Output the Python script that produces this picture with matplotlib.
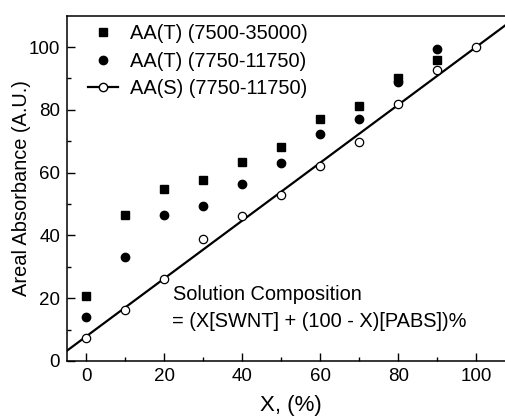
import numpy as np
import matplotlib
matplotlib.use("Agg")
import matplotlib.pyplot as plt
from matplotlib.lines import Line2D

plt.rcParams['font.family'] = ['Liberation Sans', 'DejaVu Sans']

# Areal absorbance vs SWNT fraction X (%)
x_t = [0, 10, 20, 30, 40, 50, 60, 70, 80, 90]
aa_t_wide = [20.8, 46.4, 54.8, 57.8, 63.4, 68.1, 77.2, 81.2, 90.0, 95.8]
aa_t_narrow = [13.9, 33.1, 46.6, 49.5, 56.5, 63.1, 72.4, 77.2, 89.0, 99.5]
x_s = [0, 10, 20, 30, 40, 50, 60, 70, 80, 90, 100]
aa_s = [7.4, 16.1, 26.1, 38.9, 46.3, 52.8, 62.0, 69.7, 82.0, 92.6, 100.0]

labels = ['AA(T) (7500-35000)', 'AA(T) (7750-11750)', 'AA(S) (7750-11750)']

fig = plt.figure(figsize=(5.06, 4.17), dpi=100)
ax = fig.add_axes([0.1324, 0.1343, 0.886, 0.828])

# linear fit of the solution data
slope, icpt = np.polyfit(x_s, aa_s, 1)
xf = np.array([-5, 110])
ax.plot(xf, icpt + slope * xf, color='black', lw=1.6, zorder=2)

ax.plot(x_t, aa_t_wide, 's', color='black', ms=5.2, ls='none', zorder=3)
ax.plot(x_t, aa_t_narrow, 'o', color='black', ms=6, ls='none', zorder=3)
ax.plot(x_s, aa_s, 'o', mfc='white', mec='black', mew=0.9, ms=6, ls='none', zorder=4)

handles = [
    Line2D([], [], marker='s', color='black', ms=5.2, ls='none'),
    Line2D([], [], marker='o', color='black', ms=6, ls='none'),
    Line2D([], [], marker='o', mfc='white', mec='black', color='black', ms=6, lw=1.6),
]
ax.legend(handles, labels, loc='upper left', bbox_to_anchor=(0.047, 0.975),
          frameon=False, fontsize=14.4, handlelength=1.5, handletextpad=0.6,
          labelspacing=0.42, borderpad=0, borderaxespad=0)

ax.text(22.2, 21.1, 'Solution Composition', fontsize=14.4, ha='left', va='center')
ax.text(22.0, 12.6, '= (X[SWNT] + (100 - X)[PABS])%', fontsize=14.4, ha='left', va='center')

ax.set_xlim(-5, 110)
ax.set_ylim(0, 110)
ax.set_xticks([0, 20, 40, 60, 80, 100])
ax.set_yticks([0, 20, 40, 60, 80, 100])
ax.set_xticks(np.arange(10, 110, 20), minor=True)
ax.set_yticks(np.arange(10, 110, 20), minor=True)
ax.tick_params(which='both', direction='in', labelsize=13.5, width=1.0)
ax.tick_params(which='major', length=5.5, pad=5)
ax.tick_params(which='minor', length=3)
for s in ax.spines.values():
    s.set_linewidth(1.1)

ax.set_xlabel('X, (%)', fontsize=16, labelpad=7.5)
ax.set_ylabel('Areal Absorbance (A.U.)', fontsize=14.4, labelpad=-2)

fig.savefig('out.png', dpi=100)
